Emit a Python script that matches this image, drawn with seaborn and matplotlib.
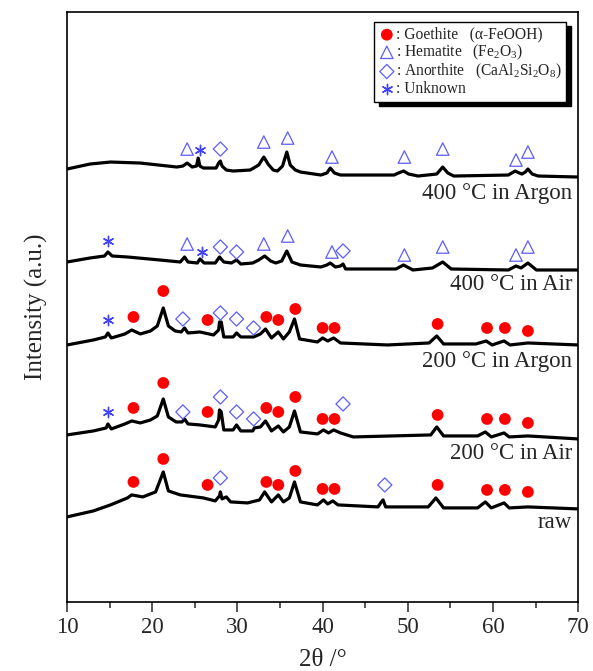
import matplotlib
matplotlib.use("Agg")
import matplotlib.pyplot as plt
import seaborn as sns

# XRD patterns (2theta in deg, intensity in a.u., curves already offset)
tt_400ar = [10.0, 12.7, 15.1, 18.6, 22.9, 23.6, 24.1, 24.7, 25.2, 25.4, 25.6, 26.0, 27.5, 27.8, 28.0, 28.2, 28.7,
            29.5, 31.5, 32.5, 33.1, 33.6, 34.2, 34.7, 35.3, 35.8, 36.2, 36.8, 37.4, 39.8, 40.5, 40.9, 41.4, 42.1,
            48.4, 48.9, 49.5, 50.1, 51.2, 53.4, 54.1, 54.7, 55.4, 61.8, 62.2, 62.6, 63.1, 63.4, 63.8, 64.1, 64.6,
            65.3, 70.0]
i_400ar = [433, 438, 440, 439, 435, 436, 439, 435, 436, 444, 436, 434, 434, 439, 441, 436, 432,
           431, 432, 437, 445, 438, 432, 431, 436, 450, 437, 432, 430, 427, 429, 434, 429, 427,
           427, 429, 431, 428, 426, 428, 435, 429, 426, 427, 429, 431, 429, 428, 430, 433, 428,
           426, 425]

tt_400air = [10.0, 12.7, 14.4, 14.8, 15.3, 17.1, 20.9, 23.3, 23.8, 24.2, 25.3, 25.6, 26.1, 27.4, 27.9, 28.4,
             29.3, 29.9, 30.4, 31.8, 32.5, 33.2, 33.9, 34.5, 35.2, 35.8, 36.4, 37.4, 39.8, 40.5, 40.9, 41.5,
             42.1, 42.4, 42.7, 48.6, 49.5, 50.6, 52.9, 54.1, 55.1, 61.8, 62.7, 63.3, 64.1, 65.1, 70.0]
i_400air = [340, 344, 346, 350, 346, 345, 342, 340, 345, 340, 339, 343, 339, 339, 345, 340,
            339, 342, 338, 339, 342, 346, 341, 339, 341, 351, 340, 337, 335, 337, 339, 335,
            336, 338, 333, 333, 337, 332, 334, 340, 333, 332, 336, 334, 339, 332, 332]

tt_200ar = [10.0, 13.1, 14.5, 14.8, 15.2, 16.8, 17.6, 18.6, 19.8, 20.6, 21.3, 21.9, 22.7, 23.4, 23.8, 24.2,
            25.6, 27.2, 27.8, 27.9, 28.1, 28.4, 29.5, 29.9, 30.4, 31.9, 32.7, 33.3, 34.0, 34.8, 35.4, 36.1,
            36.7, 37.3, 39.4, 40.0, 40.6, 41.3, 42.1, 47.6, 52.5, 53.4, 54.2, 58.0, 59.2, 59.9, 61.3, 62.0,
            64.1, 70.0]
i_200ar = [257, 262, 265, 269, 264, 268, 272, 268, 271, 276, 294, 276, 271, 270, 274, 269,
           270, 267, 272, 280, 280, 265, 265, 269, 265, 265, 268, 273, 264, 270, 263, 270,
           283, 263, 260, 264, 261, 264, 259, 257, 259, 266, 258, 258, 261, 257, 261, 257,
           259, 257]

tt_200air = [10.0, 13.1, 14.6, 14.8, 15.2, 16.8, 17.6, 18.6, 19.8, 20.6, 21.3, 21.9, 22.8, 23.5, 23.8, 24.2,
             25.6, 27.4, 27.8, 27.9, 28.1, 28.4, 29.5, 29.9, 30.4, 31.8, 32.0, 32.7, 33.3, 34.0, 34.8, 35.4,
             36.1, 36.7, 37.4, 39.4, 40.1, 40.7, 41.3, 42.1, 43.6, 52.7, 53.4, 54.2, 58.2, 59.1, 59.8, 61.3,
             61.9, 64.1, 70.0]
i_200air = [167, 171, 174, 178, 173, 178, 181, 179, 182, 186, 203, 185, 180, 180, 183, 178,
            177, 175, 182, 192, 190, 172, 172, 177, 171, 171, 174, 175, 181, 171, 176, 170,
            175, 191, 170, 168, 172, 169, 172, 169, 165, 167, 175, 166, 166, 170, 165, 169,
            165, 166, 163]

tt_raw = [10.0, 13.1, 15.1, 17.1, 17.6, 18.9, 20.4, 21.3, 21.9, 23.3, 26.0, 27.4, 27.9, 28.0, 28.2, 28.7,
          29.2, 31.2, 32.6, 33.2, 34.0, 34.8, 35.4, 36.1, 36.7, 37.4, 39.4, 40.1, 40.6, 41.2, 41.8, 46.5,
          46.9, 47.1, 47.4, 52.4, 53.3, 54.2, 58.2, 59.1, 59.8, 61.3, 61.9, 64.1, 70.0]
i_raw = [85, 91, 97, 104, 107, 105, 110, 130, 111, 107, 104, 101, 106, 110, 103, 105,
         100, 99, 102, 110, 100, 107, 100, 104, 120, 100, 97, 102, 98, 101, 97, 95,
         100, 102, 95, 95, 104, 94, 94, 100, 94, 99, 94, 95, 93]

curves = [(tt_400ar, i_400ar), (tt_400air, i_400air), (tt_200ar, i_200ar),
          (tt_200air, i_200air), (tt_raw, i_raw)]
curve_labels = ["400 °C in Argon", "400 °C in Air", "200 °C in Argon", "200 °C in Air", "raw"]
label_y = [409, 317, 240, 148, 79]

# phase markers
goe_x = [17.8, 21.3, 26.5, 33.4, 34.8, 36.8, 40.0, 41.4, 53.5, 59.3, 61.4, 64.1] * 3
goe_y = [285, 311, 282, 285, 282, 293, 274, 274, 278, 274, 274, 271,
         194, 219, 190, 194, 190, 205, 183, 183, 187, 183, 183, 179,
         120, 143, 117, 120, 117, 131, 113, 113, 117, 112, 112, 110]
hem_x = [24.1, 33.1, 35.9, 41.1, 49.6, 54.1, 62.7, 64.1] * 2
hem_y = [453, 460, 464, 445, 445, 453, 442, 450,
         358, 358, 366, 350, 347, 355, 347, 355]
ano_x = [28.0, 28.0, 29.9, 42.4, 23.6, 28.0, 29.9, 31.9, 23.6, 28.0, 29.9, 31.9, 42.4, 28.0, 47.3]
ano_y = [453, 355, 350, 351, 283, 289, 283, 274, 190, 205, 190, 183, 198, 124, 117]
unk_x = [25.6, 14.8, 25.8, 14.8, 14.8]
unk_y = [452, 361, 350, 282, 190]

sns.set_style("ticks")
plt.rcParams["font.family"] = ["Liberation Serif", "DejaVu Serif"]
plt.rcParams["mathtext.fontset"] = "custom"
plt.rcParams["mathtext.rm"] = "Liberation Serif"
plt.rcParams["mathtext.it"] = "Liberation Serif:italic"

fig = plt.figure(figsize=(5.93, 6.71), dpi=100)
ax = fig.add_axes([0.113, 0.103, 0.862, 0.879])

for (tt, inten) in curves:
    sns.lineplot(x=tt, y=inten, ax=ax, color="black", lw=2.3, sort=False, estimator=None, legend=False)

blue = "#5c5cff"
sns.scatterplot(x=goe_x, y=goe_y, ax=ax, marker="o", s=72, color="#ff0000", edgecolor="none",
                label=": Goethite   (α-FeOOH)", zorder=3)
sns.scatterplot(x=hem_x, y=hem_y, ax=ax, marker="^", s=80, facecolors="none", edgecolor=blue,
                linewidth=0.9, label=": Hematite   (Fe$_2$O$_3$)", zorder=3)
sns.scatterplot(x=ano_x, y=ano_y, ax=ax, marker="D", s=52, facecolors="none", edgecolor=blue,
                linewidth=0.9, label=": Anorthite   (CaAl$_2$Si$_2$O$_8$)", zorder=3)
sns.scatterplot(x=unk_x, y=unk_y, ax=ax, marker=(6, 2, 0), s=55, color="#4040ff",
                linewidth=1.0, label=": Unknown", zorder=3)

for lab, yy in zip(curve_labels, label_y):
    ax.text(69.3, yy, lab, ha="right", va="center", fontsize=16.5)

ax.set_xlim(10, 70)
ax.set_ylim(0, 590)
ax.set_xticks(range(10, 71, 10))
ax.set_xticks(range(15, 70, 10), minor=True)
ax.set_yticks([])
ax.tick_params(axis="x", which="major", length=7, width=1.1, labelsize=16.5, pad=4)
ax.tick_params(axis="x", which="minor", length=4, width=1.1)
for sp in ax.spines.values():
    sp.set_linewidth(1.2)
    sp.set_color("black")
ax.set_xlabel("2θ /°", fontsize=18, labelpad=8)
ax.set_ylabel("Intensity (a.u.)", fontsize=18, labelpad=14)

leg = ax.legend(loc="upper right", bbox_to_anchor=(0.977, 0.983), fontsize=11.2, frameon=True,
                fancybox=False, shadow={"color": "black", "alpha": 1, "ox": 3, "oy": -3},
                edgecolor="black", framealpha=1, handletextpad=0.1, labelspacing=0.0,
                borderpad=0.3, handlelength=1.0, borderaxespad=0)
leg.get_frame().set_linewidth(1.0)

fig.savefig("out.png", dpi=100)
